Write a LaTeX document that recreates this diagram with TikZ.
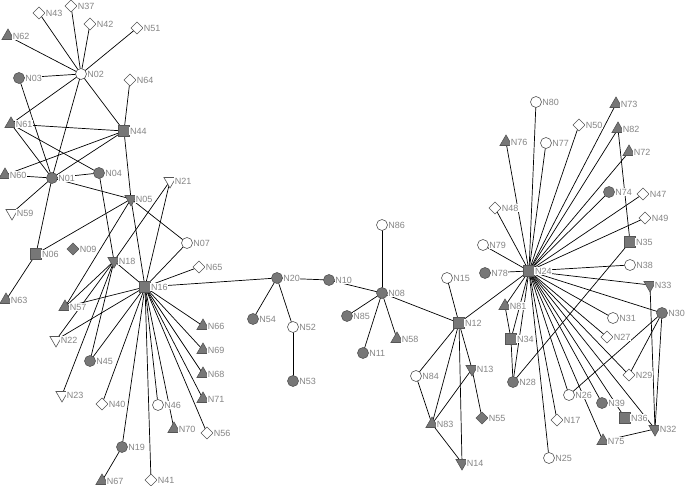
\documentclass[tikz,border=0pt]{standalone}
\usepackage{fontspec}
\setmainfont{Liberation Sans}
\usetikzlibrary{shapes.geometric,backgrounds}
\definecolor{nfill}{HTML}{777777}
\definecolor{nline}{HTML}{555555}
\definecolor{ltxt}{HTML}{858585}
\tikzset{
  base/.style={draw=nline, line width=0.6pt, inner sep=0pt, outer sep=0pt},
  cg/.style={base, circle, fill=nfill, minimum size=11pt},
  cw/.style={base, circle, fill=white, minimum size=11pt},
  sq/.style={base, rectangle, fill=nfill, minimum size=10.5pt},
  tu/.style={base, regular polygon, regular polygon sides=3, fill=nfill, minimum size=14pt},
  tdg/.style={base, regular polygon, regular polygon sides=3, shape border rotate=180, fill=nfill, minimum size=14pt},
  tdw/.style={base, regular polygon, regular polygon sides=3, shape border rotate=180, fill=white, minimum size=14pt},
  dw/.style={base, regular polygon, regular polygon sides=4, shape border rotate=45, fill=white, minimum size=12pt},
  dg/.style={base, regular polygon, regular polygon sides=4, shape border rotate=45, fill=nfill, minimum size=12pt},
  lbl/.style={text=ltxt, fill=white, font=\fontsize{9}{10}\selectfont, inner sep=0.6pt},
  edge/.style={draw=black, line width=0.7pt}
}
\newcommand{\nd}[4]{\node[#2, label={[lbl]east:#1}] (#1) at (#3,#4) {};}
\begin{document}
\begin{tikzpicture}[x=1pt,y=-1pt]
\useasboundingbox (0,0) rectangle (685,486);
\nd{N43}{dw}{39}{13}
\nd{N37}{dw}{71}{6}
\nd{N42}{dw}{90}{24}
\nd{N51}{dw}{137}{28}
\nd{N62}{tu}{8}{36}
\nd{N02}{cw}{81}{74}
\nd{N03}{cg}{19}{78}
\nd{N64}{dw}{130}{80}
\nd{N61}{tu}{11}{124}
\nd{N44}{sq}{124}{131}
\nd{N60}{tu}{5}{175}
\nd{N01}{cg}{52}{178}
\nd{N04}{cg}{99}{173}
\nd{N05}{tdg}{131}{199}
\nd{N21}{tdw}{170}{181}
\nd{N59}{tdw}{12}{213}
\nd{N06}{sq}{36}{254}
\nd{N09}{dg}{73}{249}
\nd{N18}{tdg}{114}{261}
\nd{N16}{sq}{145}{287}
\nd{N63}{tu}{6}{300}
\nd{N57}{tu}{65}{307}
\nd{N22}{tdw}{56}{340}
\nd{N45}{cg}{90}{361}
\nd{N23}{tdw}{62}{395}
\nd{N40}{dw}{102}{404}
\nd{N46}{cw}{158}{405}
\nd{N19}{cg}{122}{447}
\nd{N67}{tu}{102}{481}
\nd{N41}{dw}{151}{480}
\nd{N07}{cw}{187}{243}
\nd{N65}{dw}{199}{267}
\nd{N20}{cg}{277}{278}
\nd{N10}{cg}{329}{280}
\nd{N54}{cg}{253}{319}
\nd{N52}{cw}{293}{327}
\nd{N53}{cg}{293}{381}
\nd{N66}{tu}{203}{326}
\nd{N69}{tu}{203}{350}
\nd{N68}{tu}{203}{374}
\nd{N71}{tu}{203}{399}
\nd{N70}{tu}{174}{429}
\nd{N56}{dw}{207}{433}
\nd{N86}{cw}{382}{225}
\nd{N08}{cg}{382}{293}
\nd{N85}{cg}{347}{316}
\nd{N58}{tu}{397}{339}
\nd{N11}{cg}{363}{353}
\nd{N15}{cw}{447}{278}
\nd{N12}{sq}{459}{323}
\nd{N84}{cw}{416}{376}
\nd{N13}{tdg}{472}{369}
\nd{N83}{tu}{432}{424}
\nd{N55}{dg}{482}{418}
\nd{N14}{tdg}{462}{463}
\nd{N79}{cw}{483}{245}
\nd{N78}{cg}{485}{273}
\nd{N48}{dw}{495}{208}
\nd{N81}{tu}{505}{306}
\nd{N24}{sq}{529}{271}
\nd{N34}{sq}{511}{339}
\nd{N28}{cg}{513}{382}
\nd{N80}{cw}{536}{102}
\nd{N73}{tu}{616}{104}
\nd{N50}{dw}{579}{125}
\nd{N82}{tu}{618}{129}
\nd{N76}{tu}{506}{142}
\nd{N77}{cw}{546}{143}
\nd{N72}{tu}{629}{152}
\nd{N74}{cg}{609}{192}
\nd{N47}{dw}{643}{194}
\nd{N49}{dw}{645}{218}
\nd{N35}{sq}{630}{242}
\nd{N38}{cw}{630}{265}
\nd{N33}{tdg}{650}{285}
\nd{N30}{cg}{662}{313}
\nd{N31}{cw}{613}{318}
\nd{N27}{dw}{607}{337}
\nd{N29}{dw}{629}{375}
\nd{N26}{cw}{569}{395}
\nd{N39}{cg}{602}{403}
\nd{N17}{dw}{557}{420}
\nd{N36}{sq}{625}{418}
\nd{N32}{tdg}{655}{429}
\nd{N75}{tu}{603}{441}
\nd{N25}{cw}{549}{458}
\begin{scope}[on background layer]
\foreach \a/\b in {N02/N43,N02/N37,N02/N42,N02/N51,N02/N62,N02/N03,N02/N61,N02/N44,N02/N01,
  N01/N06,N06/N63,N03/N01,N44/N64,N44/N61,N44/N01,N44/N60,N44/N05,N61/N04,N61/N01,N01/N60,N01/N59,
  N01/N04,N01/N05,N06/N05,N04/N18,N05/N16,N05/N57,N05/N07,N21/N16,N21/N18,N18/N16,N18/N57,
  N18/N22,N18/N45,N18/N23,N16/N57,N16/N22,N16/N45,N16/N40,N16/N19,N16/N41,N16/N46,N16/N70,
  N16/N71,N16/N68,N16/N69,N16/N66,N16/N56,N16/N65,N16/N07,N16/N20,N19/N67,N20/N10,N20/N54,
  N20/N52,N52/N53,N10/N08,
  N08/N86,N08/N85,N08/N11,N08/N58,N08/N12,
  N12/N24,N12/N15,N12/N84,N12/N83,N12/N14,N12/N13,N13/N55,N13/N83,N84/N83,N83/N14,
  N24/N76,N24/N80,N24/N77,N24/N50,N24/N73,N24/N82,N24/N72,N24/N74,N24/N47,N24/N49,N24/N48,
  N24/N79,N24/N78,N24/N38,N24/N33,N24/N30,N24/N31,N24/N27,N24/N81,N24/N34,N24/N28,N24/N17,
  N24/N25,N24/N26,N24/N39,N24/N36,N24/N32,N24/N29,N24/N75,
  N35/N82,N35/N28,N30/N26,N30/N29,N30/N32,N33/N32,N32/N75,N81/N34,N34/N28}
  \draw[edge] (\a.center) -- (\b.center);
\end{scope}
\end{tikzpicture}
\end{document}
